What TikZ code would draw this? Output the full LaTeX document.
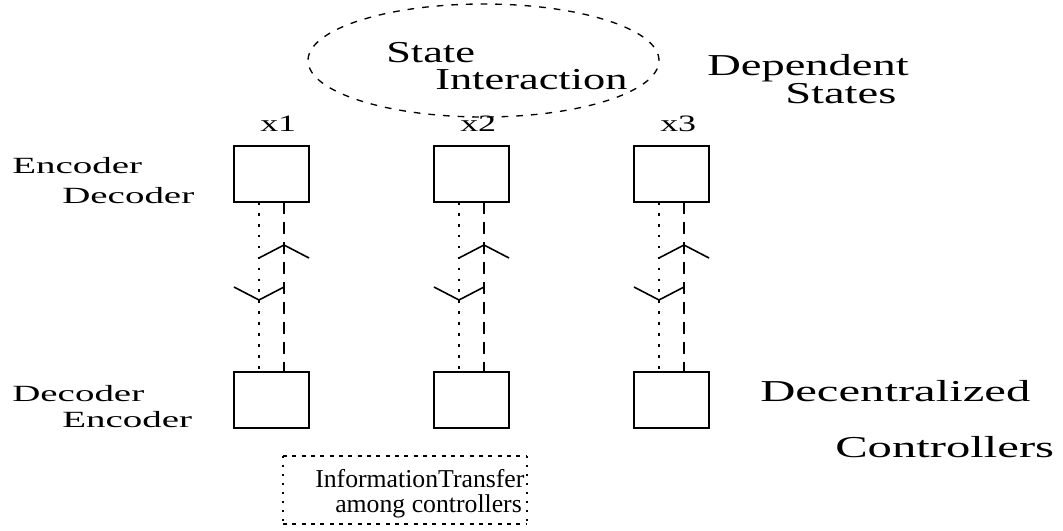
\documentclass[tikz,border=0pt]{standalone}
\usepackage{fontspec}
\setmainfont{Liberation Serif}
\newfontfamily\stfont[FakeStretch=1.46]{Liberation Serif}
\newfontfamily\depfont[FakeStretch=1.53]{Liberation Serif}
\newfontfamily\ctlfont[FakeStretch=1.6]{Liberation Serif}
\newfontfamily\codfont[FakeStretch=1.68]{Liberation Serif}
\usetikzlibrary{calc,shapes.geometric}
\tikzset{
  sysbox/.style={draw,line width=1.6pt,minimum width=56.25pt,minimum height=42pt,inner sep=0pt,outer sep=0pt},
  dotline/.style={line width=2pt,dash pattern=on 2pt off 6.2pt},
  dashline/.style={line width=1.6pt,dash pattern=on 9pt off 6pt},
  chev/.style={line width=1.2pt},
  txt/.style={anchor=base west,inner sep=0pt},
}
\begin{document}
\begin{tikzpicture}[x=0.75pt,y=-0.75pt]
\useasboundingbox (0,0) rectangle (1063,531);
% state interaction
\node[ellipse,draw,line width=1pt,dash pattern=on 5pt off 6pt,minimum width=263.25pt,minimum height=84.75pt,inner sep=0pt] (inter) at (483.5,60.5) {};
\node[txt,font=\stfont\fontsize{22.8pt}{25pt}\selectfont] (state) at (386,63) {State};
\node[txt,font=\stfont\fontsize{22.8pt}{25pt}\selectfont] (interact) at (435,90) {Interaction};
\node[txt,font=\depfont\fontsize{22.8pt}{25pt}\selectfont] (dep) at (707,76) {Dependent};
\node[txt,font=\depfont\fontsize{22.8pt}{25pt}\selectfont] (depst) at (785,104) {States};
% upper boxes
\node[sysbox] (enc1) at (271.5,174) {};
\node[sysbox] (enc2) at (471.5,174) {};
\node[sysbox] (enc3) at (671.5,174) {};
\node[txt,font=\depfont\fontsize{17.6pt}{19pt}\selectfont] (x1) at (260,132) {x1};
\node[txt,font=\depfont\fontsize{17.6pt}{19pt}\selectfont] (x2) at (460,132) {x2};
\node[txt,font=\depfont\fontsize{17.6pt}{19pt}\selectfont] (x3) at (660,132) {x3};
\node[txt,font=\codfont\fontsize{17.4pt}{19pt}\selectfont] (encA) at (12,174) {Encoder};
\node[txt,font=\codfont\fontsize{17.4pt}{19pt}\selectfont] (decA) at (62,203) {Decoder};
% lower boxes
\node[sysbox] (dec1) at (271.5,400) {};
\node[sysbox] (dec2) at (471.5,400) {};
\node[sysbox] (dec3) at (671.5,400) {};
\node[txt,font=\codfont\fontsize{17.4pt}{19pt}\selectfont] (decB) at (12,401) {Decoder};
\node[txt,font=\codfont\fontsize{17.4pt}{19pt}\selectfont] (encB) at (62,427) {Encoder};
\node[txt,font=\ctlfont\fontsize{22.8pt}{25pt}\selectfont] (decent) at (760,401) {Decentralized};
\node[txt,font=\ctlfont\fontsize{22.8pt}{25pt}\selectfont] (ctrl) at (835,457) {Controllers};
% links
\draw[dotline] ($(enc1.south)+(-12.5,0)$) -- ($(dec1.north)+(-12.5,0)$);
\draw[dashline] ($(enc1.south)+(12.5,0)$) -- ($(dec1.north)+(12.5,0)$);
\draw[dotline] ($(enc2.south)+(-12.5,0)$) -- ($(dec2.north)+(-12.5,0)$);
\draw[dashline] ($(enc2.south)+(12.5,0)$) -- ($(dec2.north)+(12.5,0)$);
\draw[dotline] ($(enc3.south)+(-12.5,0)$) -- ($(dec3.north)+(-12.5,0)$);
\draw[dashline] ($(enc3.south)+(12.5,0)$) -- ($(dec3.north)+(12.5,0)$);
\draw[chev] ($(enc1.south)+(-12.5,56)$) -- ++(25,-13) -- ++(25,13);
\draw[chev] ($(enc1.south)+(-37.5,85)$) -- ++(25,13) -- ++(25,-13);
\draw[chev] ($(enc2.south)+(-12.5,56)$) -- ++(25,-13) -- ++(25,13);
\draw[chev] ($(enc2.south)+(-37.5,85)$) -- ++(25,13) -- ++(25,-13);
\draw[chev] ($(enc3.south)+(-12.5,56)$) -- ++(25,-13) -- ++(25,13);
\draw[chev] ($(enc3.south)+(-37.5,85)$) -- ++(25,13) -- ++(25,-13);
% information transfer
\draw[line width=1.1pt,dash pattern=on 3pt off 4pt] (283,456) -- (527,456);
\draw[line width=1.1pt,dash pattern=on 3pt off 4pt] (283,524) -- (527,524);
\draw[line width=1.3pt,dash pattern=on 1.3pt off 5.5pt] (283,456) -- (283,524);
\draw[line width=1.3pt,dash pattern=on 1.3pt off 5.5pt] (527,456) -- (527,524);
\node[txt,font=\fontsize{19.3pt}{21pt}\selectfont] (info) at (315,487) {InformationTransfer};
\node[txt,font=\fontsize{19.3pt}{21pt}\selectfont] (among) at (335,512) {among controllers};
\end{tikzpicture}
\end{document}
